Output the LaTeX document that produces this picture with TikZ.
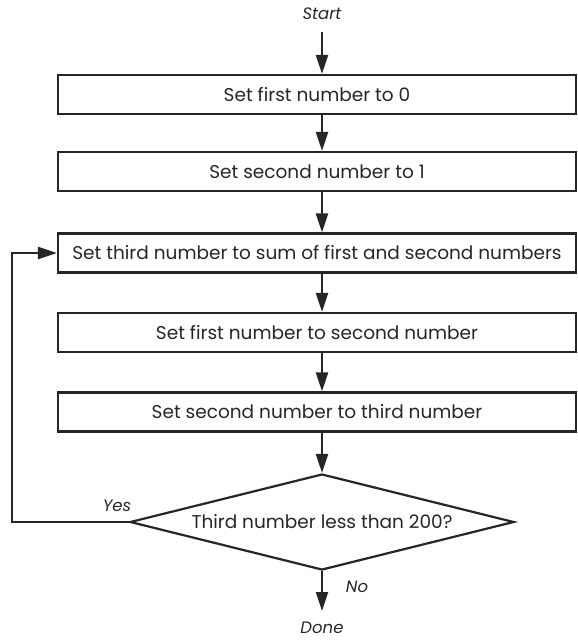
\documentclass[tikz,border=0pt]{standalone}
\usepackage{fontspec}
\setmainfont{Poppins}
\usetikzlibrary{arrows.meta,shapes.geometric}
\begin{document}
\begin{tikzpicture}[x=1pt,y=-1pt,
  every node/.style={font=\fontsize{18.5}{22}\selectfont, text=black!85},
  procbox/.style={draw=black!85, line width=2.2pt, minimum width=518pt, minimum height=39pt, inner sep=0pt},
  decision/.style={draw=black!85, line width=2.2pt, diamond, aspect=4, minimum width=384pt, minimum height=96pt, inner sep=0pt},
  flow/.style={draw=black!85, line width=2.2pt, -{Triangle[length=19pt,width=12pt]}},
  lbl/.style={font=\fontsize{16.5}{20}\itshape\selectfont}]
\useasboundingbox (0,0) rectangle (578,641);
\node[lbl] (start) at (322,14) {Start};
\node[procbox] (b1) at (317,94.5) {Set first number to 0};
\node[procbox] (b2) at (317,171.5) {Set second number to 1};
\node[procbox] (b3) at (317,253) {Set third number to sum of first and second numbers};
\node[procbox] (b4) at (317,332.5) {Set first number to second number};
\node[procbox] (b5) at (317,412) {Set second number to third number};
\node[decision] (d) at (322,522) {Third number less than 200?};
\node[lbl] (done) at (322,628) {Done};
\node[lbl] (yes) at (117,506) {Yes};
\node[lbl] (no) at (357,587) {No};
\coordinate (s0) at (322,32);
\coordinate (e0) at (322,611);
\draw[flow] (s0) -- (s0 |- b1.north);
\draw[flow] (b1.south -| s0) -- (b2.north -| s0);
\draw[flow] (b2.south -| s0) -- (b3.north -| s0);
\draw[flow] (b3.south -| s0) -- (b4.north -| s0);
\draw[flow] (b4.south -| s0) -- (b5.north -| s0);
\draw[flow] (b5.south -| s0) -- (d.north);
\draw[flow] (d.south) -- (e0);
\draw[flow] (d.west) -- (12,522) |- (b3.west);
\end{tikzpicture}
\end{document}
